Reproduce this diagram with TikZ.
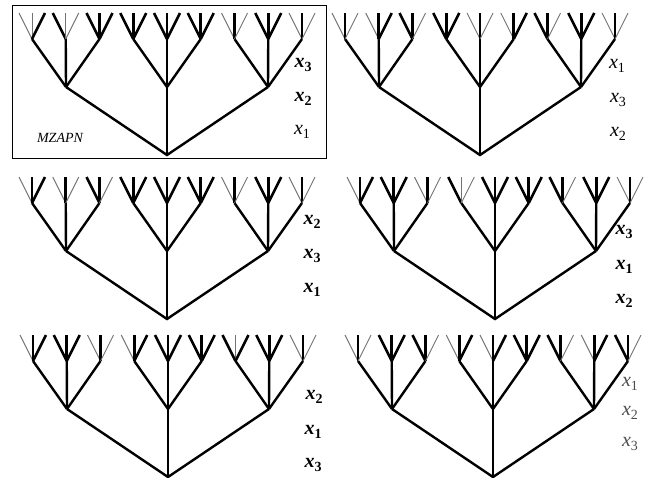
\documentclass[tikz,border=0pt]{standalone}
\usepackage{fontspec}
\setmainfont{Liberation Serif}
\usepackage{tikz}
\usetikzlibrary{
  positioning,
  calc,
}
\tikzset{
  heavy/.style={line width=2.6pt},
  light/.style={line width=0.9pt, black!55},
  stem/.style={line width=2.4pt},
  boldlab/.style={font=\fontsize{20}{20}\selectfont\bfseries},
  plainlab/.style={font=\fontsize{20}{20}\selectfont},
  greylab/.style={font=\fontsize{20}{20}\selectfont, black!70},
}
\newcommand{\xvar}[1]{\textit{x}\raisebox{-0.45ex}{\fontsize{14}{14}\selectfont #1}}
% one ternary tree: #1 name, #2 root x, #3 leaf row y, #4 styles of the 27 leaf edges
\newcommand{\vartree}[4]{%
  \coordinate (#1r) at (#2,#3+142);
  \foreach \i in {0,1,2}
    \coordinate (#1m\i) at ({#2+(\i-1)*101},#3+74);
  \draw[stem] (#1m0) -- (#1r) -- (#1m2);
  \draw[stem] (#1r) -- (#1m1);
  \foreach \la/\lb/\lc [count=\j from 0] in {#4}{
    \pgfmathtruncatemacro\k{\j/3}
    \coordinate (#1t\j) at ({#2+(\j-4)*33.75},#3+26);
    \coordinate (#1l\j-0) at ({#2+(\j-4)*33.75-13},#3);
    \coordinate (#1l\j-1) at ({#2+(\j-4)*33.75},#3);
    \coordinate (#1l\j-2) at ({#2+(\j-4)*33.75+13},#3);
    \draw[stem] (#1m\k) -- (#1t\j);
    \draw[\la] (#1t\j) -- (#1l\j-0);
    \draw[\lb] (#1t\j) -- (#1l\j-1);
    \draw[\lc] (#1t\j) -- (#1l\j-2);
  }
}

\begin{document}
\begin{tikzpicture}[x=1pt, y=-1pt, line join=miter]
  \useasboundingbox (0,0) rectangle (651,477);

  % top left, framed
  \draw[line width=0.8pt] (12,5) rectangle (326,158);
  \vartree{a}{167}{13}{light/light/heavy, heavy/light/light, heavy/heavy/heavy,
    heavy/heavy/heavy, heavy/heavy/heavy, heavy/heavy/heavy,
    light/heavy/light, heavy/heavy/heavy, light/heavy/light}
  \node[boldlab] (ax3) at (303,65) {\xvar{3}};
  \node[boldlab] (ax2) at (303,99) {\xvar{2}};
  \node[plainlab] (ax1) at (302,132) {\xvar{1}};
  \node[font=\fontsize{14}{14}\selectfont\itshape] (aname) at (60,138) {MZAPN};

  % top right
  \vartree{b}{480}{13}{light/heavy/light, light/heavy/heavy, heavy/heavy/light,
    heavy/heavy/heavy, light/heavy/light, light/heavy/heavy,
    heavy/heavy/light, heavy/heavy/heavy, light/heavy/light}
  \node[plainlab] (bx1) at (617,66) {\xvar{1}};
  \node[plainlab] (bx3) at (618,100) {\xvar{3}};
  \node[plainlab] (bx2) at (618,134) {\xvar{2}};

  % middle left
  \vartree{c}{167}{177}{light/heavy/heavy, light/heavy/light, heavy/heavy/light,
    heavy/heavy/heavy, heavy/heavy/heavy, heavy/heavy/heavy,
    light/heavy/light, heavy/heavy/heavy, light/heavy/light}
  \node[boldlab] (cx2) at (312,222) {\xvar{2}};
  \node[boldlab] (cx3) at (312,256) {\xvar{3}};
  \node[boldlab] (cx1) at (312,290) {\xvar{1}};

  % middle right
  \vartree{d}{495}{177}{light/heavy/heavy, heavy/heavy/heavy, light/heavy/light,
    heavy/light/light, heavy/heavy/heavy, heavy/heavy/heavy,
    heavy/heavy/light, heavy/heavy/heavy, light/heavy/light}
  \node[boldlab] (dx3) at (624,232) {\xvar{3}};
  \node[boldlab] (dx1) at (624,267) {\xvar{1}};
  \node[boldlab] (dx2) at (624,301) {\xvar{2}};

  % bottom left
  \vartree{e}{168}{335}{light/heavy/heavy, heavy/heavy/heavy, light/heavy/light,
    light/heavy/heavy, heavy/heavy/heavy, heavy/heavy/heavy,
    heavy/light/heavy, heavy/heavy/heavy, light/heavy/light}
  \node[boldlab] (ex2) at (314,397) {\xvar{2}};
  \node[boldlab] (ex1) at (313,432) {\xvar{1}};
  \node[boldlab] (ex3) at (313,465) {\xvar{3}};

  % bottom right
  \vartree{f}{493}{335}{light/heavy/light, heavy/heavy/heavy, heavy/heavy/light,
    light/heavy/heavy, light/heavy/heavy, heavy/heavy/heavy,
    heavy/heavy/light, light/heavy/heavy, heavy/heavy/light}
  \node[greylab] (fx1) at (630,384) {\xvar{1}};
  \node[greylab] (fx2) at (630,413) {\xvar{2}};
  \node[greylab] (fx3) at (630,444) {\xvar{3}};
\end{tikzpicture}
\end{document}
